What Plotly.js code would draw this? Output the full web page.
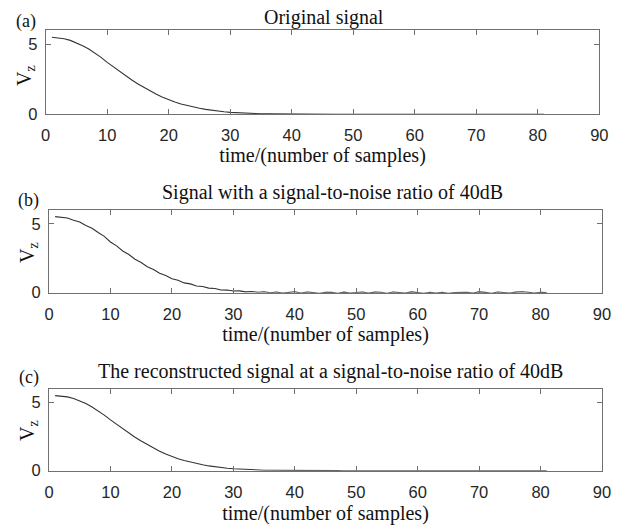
<!DOCTYPE html>
<html>
<head>
<meta charset="utf-8">
<script src="https://cdn.plot.ly/plotly-3.0.1.min.js"></script>
<style>html,body{margin:0;padding:0;background:#fff;}#chart{width:634px;height:528px;}</style>
</head>
<body>
<div id="chart"></div>
<script>
// sample index (time / number of samples)
const samples = [1,2,3,4,5,6,7,8,9,10,11,12,13,14,15,16,17,18,19,20,21,22,23,24,25,26,27,28,29,30,31,32,33,34,35,36,37,38,39,40,41,42,43,44,45,46,47,48,49,50,51,52,53,54,55,56,57,58,59,60,61,62,63,64,65,66,67,68,69,70,71,72,73,74,75,76,77,78,79,80,81];

// (a) original signal
const originalSignal = [
  5.50,5.47,5.40,5.28,5.11,4.90,4.66,4.39,4.07,3.71,
  3.38,3.06,2.75,2.45,2.17,1.91,1.66,1.43,1.22,1.04,
  0.88,0.74,0.62,0.52,0.43,0.35,0.28,0.22,0.18,0.14,
  0.11,0.085,0.066,0.050,0.038,0.029,0.022,0.017,0.013,0.010,
  0.008,0.006,0.005,0.004,0.003,0.002,0.002,0.001,0.001,0.001,
  0,0,0,0,0,0,0,0,0,0,
  0,0,0,0,0,0,0,0,0,0,
  0,0,0,0,0,0,0,0,0,0,
  0
];

// (b) signal with SNR 40dB
const noisySignal = [
  5.52,5.46,5.42,5.26,5.13,4.88,4.67,4.37,4.09,3.68,
  3.40,3.03,2.77,2.43,2.19,1.88,1.68,1.41,1.24,1.01,
  0.90,0.71,0.64,0.49,0.45,0.33,0.30,0.20,0.19,0.12,
  0.13,0.06,0.09,0.03,0.07,0.00,0.05,-0.03,0.04,0.07,
  -0.03,0.05,0.01,-0.04,0.03,0.02,-0.05,0.04,-0.02,0.01,
  0.05,-0.03,0.04,0.03,-0.04,0.05,0.02,-0.03,0.06,0.01,
  -0.05,0.02,-0.02,0.03,-0.04,0.01,0.04,0.03,-0.03,0.06,
  0.02,-0.04,0.05,0.01,-0.02,0.04,0.07,0.03,-0.03,0.02,
  0.01
];

// (c) reconstructed signal at SNR 40dB
const reconstructedSignal = [
  5.49,5.46,5.40,5.29,5.12,4.91,4.66,4.38,4.07,3.72,
  3.39,3.06,2.75,2.45,2.17,1.91,1.66,1.43,1.22,1.04,
  0.88,0.74,0.62,0.52,0.43,0.35,0.28,0.22,0.18,0.14,
  0.11,0.085,0.066,0.050,0.038,0.029,0.022,0.017,0.013,0.010,
  0.008,0.006,0.005,0.004,0.003,0.002,0.002,0.001,0.001,0.001,
  0,0,0,0,0,0,0,0,0,0,
  0,0,0,0,0,0,0,0,0,0,
  0,0,0,0,0,0,0,0,0,0,
  0
];

const xTicks = [0,10,20,30,40,50,60,70,80,90];
const yTicks = [0,5];
const panelTitles = ["Original signal","Signal with a signal-to-noise ratio of 40dB","The reconstructed signal at a signal-to-noise ratio of 40dB"];
const panelLetters = ["(a)","(b)","(c)"];
const xTitle = "time/(number of samples)";
const yTitle = "V<sub>z</sub>";

const W = 634, H = 528;
const lineColor = '#333333';
const axColor = '#707070';
const serif = 'Liberation Serif, Times New Roman, serif';
const sans = 'Liberation Sans, Arial, sans-serif';

function mkTrace(y, xa, ya){
  return {x: samples, y: y, type:'scatter', mode:'lines', xaxis: xa, yaxis: ya,
    line:{color: lineColor, width: 1.1}, hoverinfo:'skip'};
}
const data = [
  mkTrace(originalSignal,'x','y'),
  mkTrace(noisySignal,'x2','y2'),
  mkTrace(reconstructedSignal,'x3','y3')
];

function xAx(domain, anchor, standoff){
  return {domain: domain, anchor: anchor, range:[0,90], tickmode:'array', tickvals: xTicks,
    ticks:'inside', ticklen:5, tickwidth:1, tickcolor: axColor, showline:true, linecolor: axColor, linewidth:1,
    mirror:'ticks', showgrid:false, zeroline:false, ticklabelstandoff: 6,
    tickfont:{family: sans, size:16.5, color:'#262626'},
    title:{text: xTitle, font:{family: serif, size:20, color:'#111111'}, standoff: standoff}};
}
function yAx(domain, anchor){
  return {domain: domain, anchor: anchor, range:[0,6], tickmode:'array', tickvals: yTicks,
    ticks:'inside', ticklen:5, tickwidth:1, tickcolor: axColor, showline:true, linecolor: axColor, linewidth:1,
    mirror:'ticks', showgrid:false, zeroline:false, ticklabelstandoff: 4,
    tickfont:{family: sans, size:16.5, color:'#262626'}};
}

const dA = [45.7/W, 599.3/W], dB = [49/W, 602/W];
const annBase = {xref:'paper', yref:'paper', xanchor:'center', yanchor:'middle', showarrow:false,
    font:{family: serif, size:20, color:'#111111'}};
const layout = {
  width: W, height: H, margin:{l:0,r:0,t:0,b:0},
  paper_bgcolor:'#ffffff', plot_bgcolor:'#ffffff', showlegend:false,
  xaxis: xAx(dA,'y',3),
  yaxis: yAx([1-114.3/H, 1-30.3/H],'x'),
  xaxis2: xAx(dB,'y2',3),
  yaxis2: yAx([1-292.7/H, 1-210/H],'x2'),
  xaxis3: xAx(dB,'y3',6),
  yaxis3: yAx([1-470.7/H, 1-388.7/H],'x3'),
  annotations: [
    {text: panelTitles[0], x: 324/W, y: 1-17/H},
    {text: panelTitles[1], x: 332/W, y: 1-192/H},
    {text: panelTitles[2], x: 330/W, y: 1-371/H},
    {text: panelLetters[0], x: 26/W, y: 1-21/H, font:{family: serif, size:18, color:'#111111'}},
    {text: panelLetters[1], x: 28.5/W, y: 1-201/H, font:{family: serif, size:18, color:'#111111'}},
    {text: panelLetters[2], x: 29/W, y: 1-377/H, font:{family: serif, size:18, color:'#111111'}},
    {text: yTitle, x: 26/W, y: 1-76/H, textangle:-90},
    {text: yTitle, x: 28/W, y: 1-253/H, textangle:-90},
    {text: yTitle, x: 28/W, y: 1-431/H, textangle:-90}
  ].map(a => Object.assign({}, annBase, a))
};

Plotly.newPlot('chart', data, layout, {staticPlot:true, displayModeBar:false});
</script>
</body>
</html>
